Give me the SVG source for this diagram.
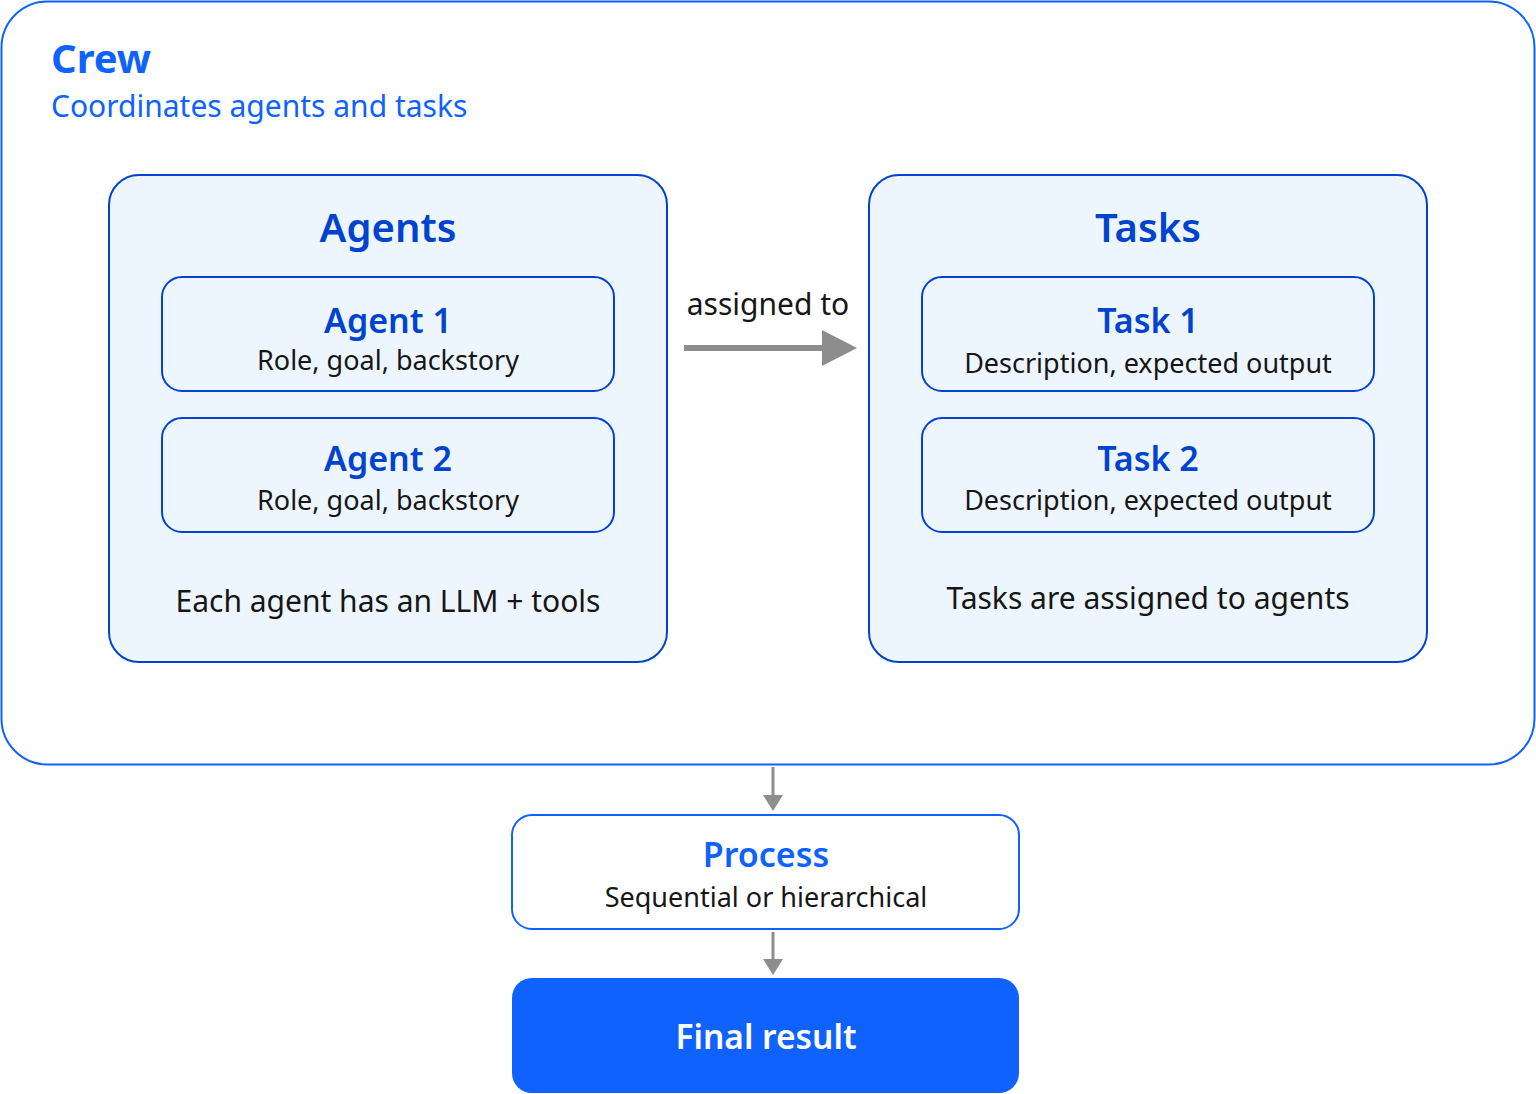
<svg xmlns="http://www.w3.org/2000/svg" width="1536" height="1094" viewBox="0 0 1536 1094">
<style>
text{font-family:"Noto Sans","Open Sans","Liberation Sans",sans-serif}
.h{font-weight:600;fill:#0043ce;text-anchor:middle}
.sub{fill:#161616;text-anchor:middle}
.grp{fill:#edf5ff;stroke:#0043ce;stroke-width:2}
.item{fill:#edf5ff;stroke:#0043ce;stroke-width:2}
.conn{stroke:#8d8d8d;fill:none}
.head{fill:#8d8d8d}
</style>
<rect width="1536" height="1094" fill="#ffffff"/>
<g id="crew">
<rect x="1.5" y="1.5" width="1533" height="763" rx="46" fill="#ffffff" stroke="#0f62fe" stroke-width="2"/>
<text x="51" y="73" font-size="40" font-weight="700" fill="#0f62fe">Crew</text>
<text x="51" y="117" font-size="30" fill="#0f62fe">Coordinates agents and tasks</text>
</g>
<g id="agents">
<rect class="grp" x="109" y="175" width="558" height="487" rx="30"/>
<text class="h" x="388" y="242" font-size="40">Agents</text>
<text class="sub" x="388" y="612" font-size="30">Each agent has an LLM + tools</text>
</g>
<g id="agent1">
<rect class="item" x="162" y="277" width="452" height="114" rx="20"/>
<text class="h" x="388" y="333" font-size="34">Agent 1</text>
<text class="sub" x="388" y="370" font-size="27">Role, goal, backstory</text>
</g>
<g id="agent2">
<rect class="item" x="162" y="418" width="452" height="114" rx="20"/>
<text class="h" x="388" y="471" font-size="34">Agent 2</text>
<text class="sub" x="388" y="510" font-size="27">Role, goal, backstory</text>
</g>
<g id="tasks">
<rect class="grp" x="869" y="175" width="558" height="487" rx="30"/>
<text class="h" x="1148" y="242" font-size="40">Tasks</text>
<text class="sub" x="1148" y="609" font-size="30">Tasks are assigned to agents</text>
</g>
<g id="task1">
<rect class="item" x="922" y="277" width="452" height="114" rx="20"/>
<text class="h" x="1148" y="333" font-size="34">Task 1</text>
<text class="sub" x="1148" y="373" font-size="27">Description, expected output</text>
</g>
<g id="task2">
<rect class="item" x="922" y="418" width="452" height="114" rx="20"/>
<text class="h" x="1148" y="471" font-size="34">Task 2</text>
<text class="sub" x="1148" y="510" font-size="27">Description, expected output</text>
</g>
<g id="process">
<rect x="512" y="815" width="507" height="114" rx="20" fill="#ffffff" stroke="#0f62fe" stroke-width="2"/>
<text class="h" x="766" y="867" font-size="34" style="fill:#0f62fe">Process</text>
<text class="sub" x="766" y="907" font-size="27">Sequential or hierarchical</text>
</g>
<g id="final">
<rect x="512" y="978" width="507" height="115" rx="20" fill="#0f62fe"/>
<text class="h" x="766" y="1049" font-size="33.5" style="fill:#ffffff">Final result</text>
</g>
<g id="connectors">
<path class="conn" d="M684,348L824,348" stroke-width="6"/>
<polygon class="head" points="822,330 857,348 822,366"/>
<text class="sub" x="768" y="315" font-size="30">assigned to</text>
<path class="conn" d="M773,767L773,797" stroke-width="3"/>
<polygon class="head" points="763,795 783,795 773,811"/>
<path class="conn" d="M773,932L773,961" stroke-width="3"/>
<polygon class="head" points="763,959 783,959 773,975"/>
</g>
</svg>
